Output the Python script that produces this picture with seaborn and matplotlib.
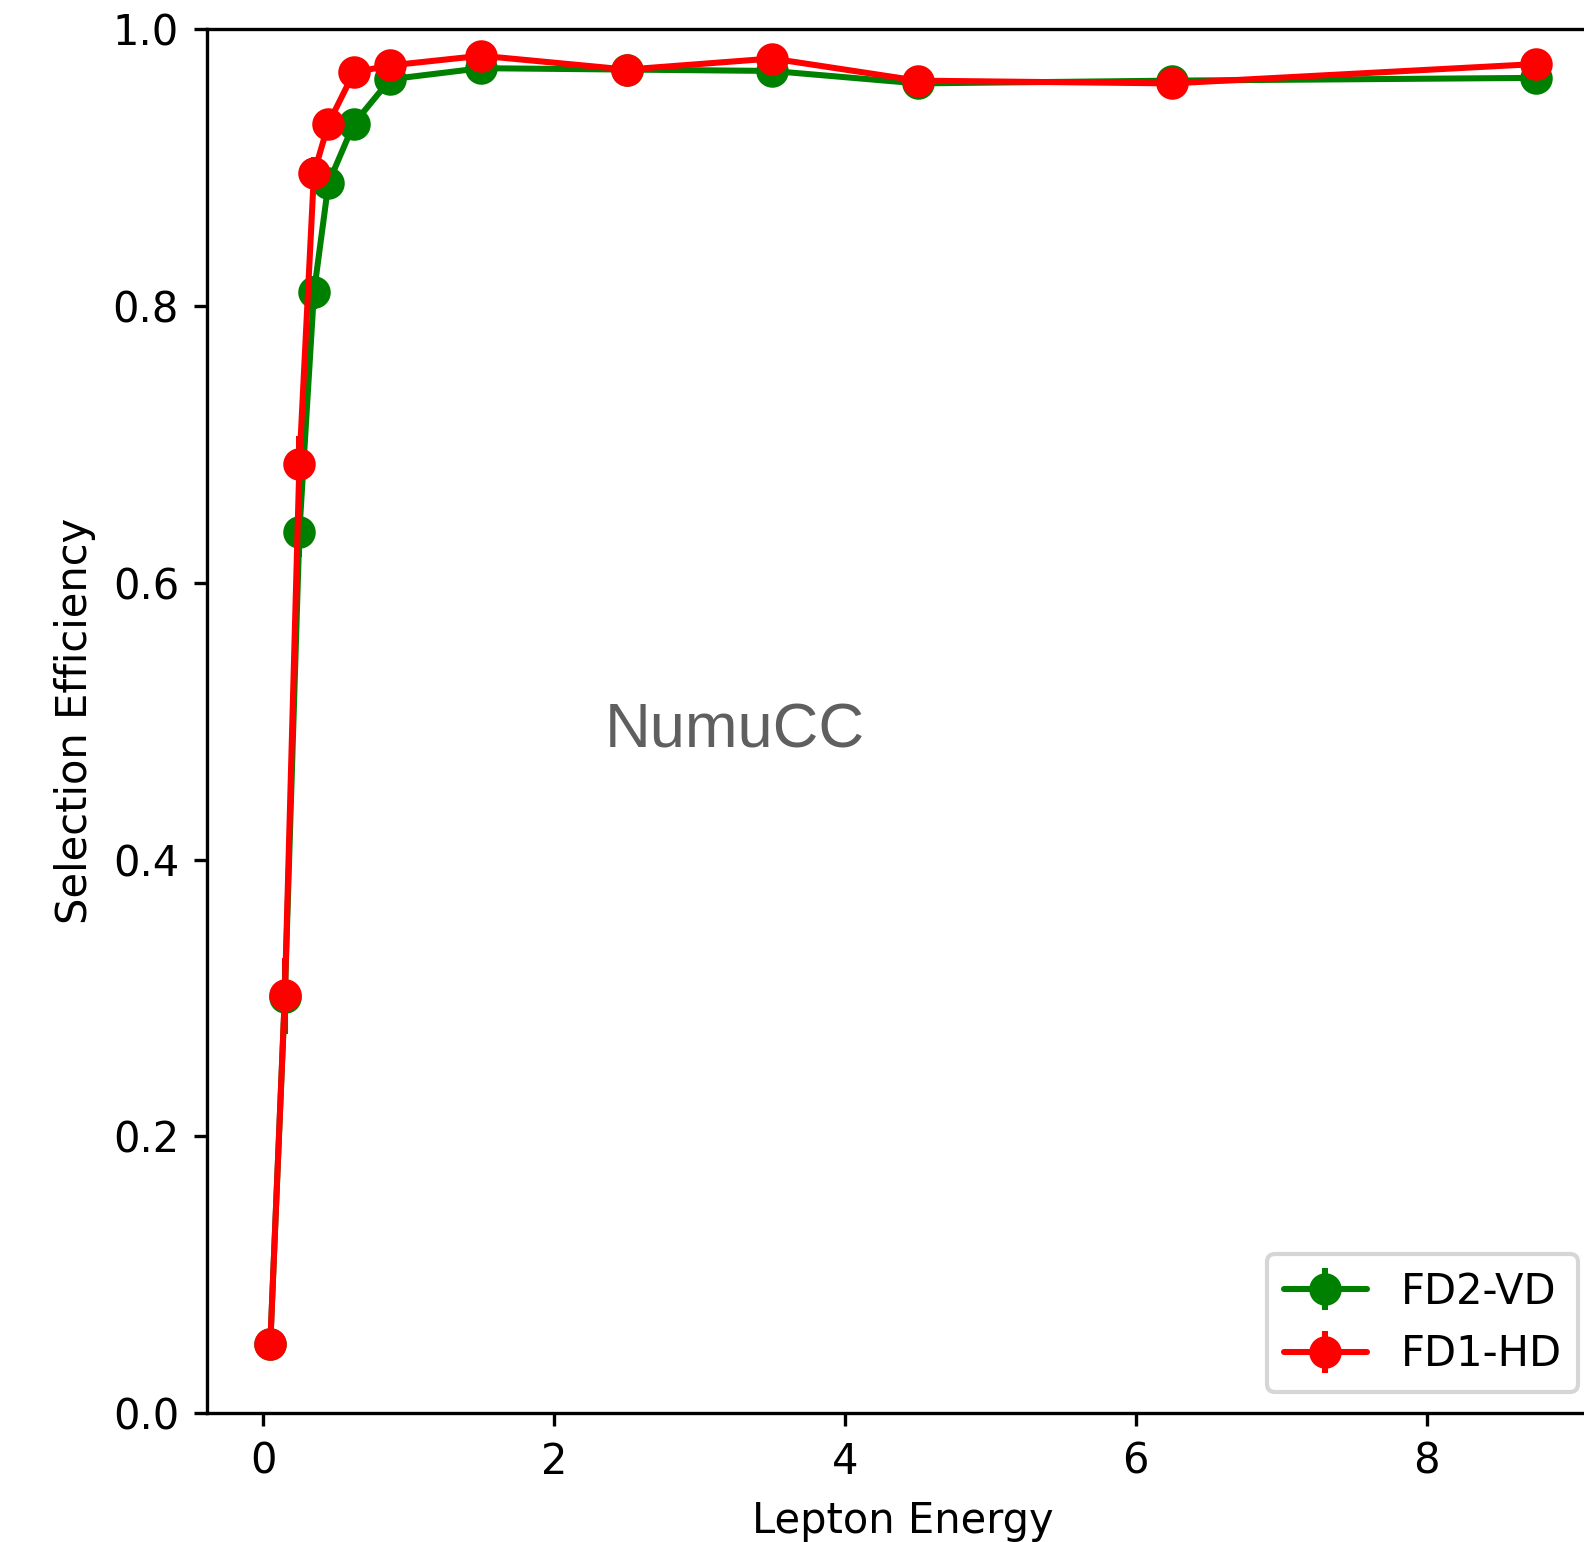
import matplotlib
matplotlib.use("Agg")
import matplotlib.pyplot as plt
import seaborn as sns

# Lepton energy bin centres
energy = [0.05, 0.15, 0.25, 0.35, 0.45, 0.625, 0.875, 1.5, 2.5, 3.5, 4.5, 6.25, 8.75]

# Selection efficiency per detector
eff_fd2_vd = [0.050, 0.301, 0.637, 0.810, 0.889, 0.932, 0.964, 0.972, 0.971, 0.970, 0.961, 0.963, 0.965]
eff_fd1_hd = [0.050, 0.302, 0.686, 0.896, 0.932, 0.969, 0.974, 0.981, 0.971, 0.979, 0.963, 0.961, 0.975]

# Statistical uncertainties
err_fd2_vd = [0.010, 0.027, 0.018, 0.012, 0.009, 0.006, 0.004, 0.003, 0.003, 0.004, 0.005, 0.005, 0.006]
err_fd1_hd = [0.010, 0.027, 0.020, 0.012, 0.008, 0.005, 0.004, 0.003, 0.003, 0.004, 0.005, 0.005, 0.006]

series_labels = ["FD2-VD", "FD1-HD"]
series_colors = ["green", "red"]

sns.set_style("ticks", rc={
    "axes.edgecolor": "black",
    "xtick.color": "black",
    "ytick.color": "black",
    "axes.labelcolor": "black",
    "text.color": "black",
})
plt.rcParams["font.family"] = ["DejaVu Sans"]
plt.rcParams.update({
    "font.size": 10,
    "axes.linewidth": 0.8,
    "xtick.major.size": 3.2,
    "ytick.major.size": 3.2,
    "xtick.major.width": 0.8,
    "ytick.major.width": 0.8,
    "lines.linewidth": 1.45,
})

DPI = 300
fig = plt.figure(figsize=(1584 / DPI, 1542 / DPI), dpi=DPI)
ax = fig.add_axes([0.1307, 0.0837, 0.8788, 0.8972])

for y, e, lab, col in zip([eff_fd2_vd, eff_fd1_hd], [err_fd2_vd, err_fd1_hd],
                          series_labels, series_colors):
    ax.errorbar(energy, y, yerr=e, fmt="o-", color=col, label=lab,
                markersize=6.8, linewidth=1.45)

ax.set_ylim(0, 1.0)
ax.set_xlabel("Lepton Energy")
ax.set_ylabel("Selection Efficiency")
ax.text(0.379, 0.493, "NumuCC", transform=ax.transAxes, ha="center", va="center",
        fontsize=15.2, color="#5f5f5f", family=["Liberation Sans", "DejaVu Sans"])
ax.legend(loc="lower right")

fig.savefig("out.png", dpi=DPI)
